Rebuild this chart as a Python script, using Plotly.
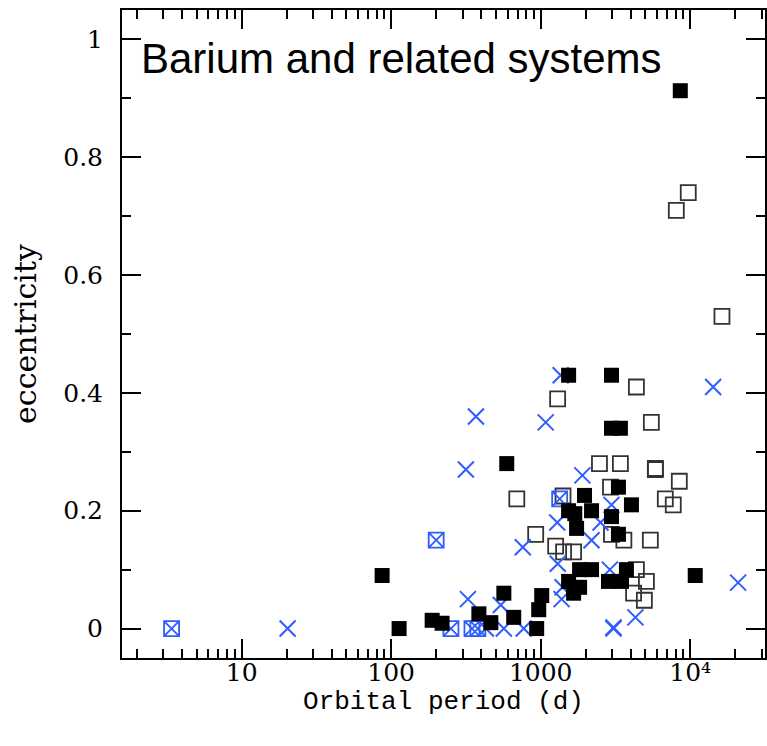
import plotly.graph_objects as go

# Barium stars (filled squares): orbital period (d), eccentricity
filled_P = [8580, 1537, 2974, 2974, 3412, 593, 3311, 1963, 4045, 1537, 1690, 2188, 2974,
            1738, 3311, 1820, 2188, 3743, 2840, 3470, 1537, 1820, 1660, 10800, 87, 567,
            188, 219, 113, 386, 464, 660, 1016, 970, 940]
filled_e = [0.913, 0.43, 0.43, 0.34, 0.34, 0.28, 0.24, 0.226, 0.21, 0.20, 0.195, 0.20, 0.19,
            0.17, 0.16, 0.10, 0.10, 0.10, 0.08, 0.08, 0.08, 0.07, 0.06, 0.09, 0.09, 0.06,
            0.014, 0.009, 0.0, 0.025, 0.01, 0.019, 0.056, 0.032, 0.0]

# Related systems (open squares)
open_P = [9700, 8070, 16300, 4365, 1298, 5495, 2472, 3412, 5845, 5845, 8450, 692, 1410,
          6813, 7700, 2930, 926, 1259, 2974, 3600, 5410, 1423, 1660, 4365, 5093, 4180, 4935]
open_e = [0.74, 0.71, 0.53, 0.41, 0.39, 0.35, 0.28, 0.28, 0.27, 0.272, 0.25, 0.22, 0.225,
          0.22, 0.21, 0.24, 0.16, 0.14, 0.16, 0.15, 0.15, 0.13, 0.13, 0.10, 0.08, 0.06, 0.048]

# Blue crosses
cross_P = [20.3, 1360, 369, 1080, 316, 1900, 14230, 759, 1290, 2974, 2512, 2188, 2900,
           20900, 4300, 3066, 3066, 1380, 326, 541, 430, 567, 770, 1300, 1400]
cross_e = [0.0, 0.43, 0.36, 0.35, 0.27, 0.26, 0.41, 0.138, 0.18, 0.21, 0.18, 0.15, 0.10,
           0.078, 0.019, 0.0, 0.002, 0.05, 0.05, 0.04, 0.0, 0.0, 0.0, 0.11, 0.07]

# Blue boxed crosses
box_P = [3.4, 200, 1339, 251, 347, 380]
box_e = [0.0, 0.15, 0.22, 0.0, 0.0, 0.0]

major_vals = [10, 100, 1000, 10000]
major_text = ["10", "100", "1000", "10⁴"]
minor_vals = [m * 10 ** k for k in range(0, 5) for m in range(2, 10)]

BLUE = "#2f5cff"

fig = go.Figure()
fig.add_trace(go.Scatter(x=open_P, y=open_e, mode="markers",
                         marker=dict(symbol="square-open", size=15, color="#333333",
                                     line=dict(width=1.8, color="#333333"))))
fig.add_trace(go.Scatter(x=cross_P, y=cross_e, mode="markers",
                         marker=dict(symbol="x-thin-open", size=16, color=BLUE,
                                     line=dict(width=2, color=BLUE))))
fig.add_trace(go.Scatter(x=box_P, y=box_e, mode="markers",
                         marker=dict(symbol="square-x-open", size=15, color=BLUE,
                                     line=dict(width=1.8, color=BLUE))))
fig.add_trace(go.Scatter(x=filled_P, y=filled_e, mode="markers",
                         marker=dict(symbol="square", size=15, color="black",
                                     line=dict(width=0))))
# invisible trace on the overlaying axis that carries the minor ticks
fig.add_trace(go.Scatter(x=[10], y=[0], xaxis="x2", mode="markers",
                         marker=dict(opacity=0), hoverinfo="skip"))

tickfont = dict(family="DejaVu Serif", size=25, color="black")
fig.update_layout(
    width=767, height=746,
    margin=dict(l=122, r=0, t=10, b=88),
    paper_bgcolor="white", plot_bgcolor="white",
    showlegend=False,
    xaxis=dict(type="log", range=[0.2, 4.5], tickmode="array", tickvals=major_vals,
               ticktext=major_text, ticks="inside", ticklen=19, tickwidth=1.5,
               tickcolor="black", showline=True, linecolor="black", linewidth=2,
               mirror="ticks", showgrid=False, zeroline=False, tickfont=tickfont,
               ticklabelstandoff=-9,
               title=dict(text="Orbital period (d)",
                          font=dict(family="Liberation Mono", size=26, color="black"),
                          standoff=0)),
    xaxis2=dict(type="log", range=[0.2, 4.5], overlaying="x", side="bottom", anchor="y",
                tickmode="array", tickvals=minor_vals, ticktext=[""] * len(minor_vals),
                ticks="inside", ticklen=9, tickwidth=1.5, tickcolor="black",
                showline=False, mirror="ticks", showgrid=False, zeroline=False,
                showticklabels=False),
    yaxis=dict(range=[-0.05, 1.05], tickmode="linear", tick0=0, dtick=0.2,
               ticks="inside", ticklen=19, tickwidth=1.5, tickcolor="black",
               minor=dict(dtick=0.1, tick0=0, ticks="inside", ticklen=9, tickwidth=1.5,
                          tickcolor="black"),
               showline=True, linecolor="black", linewidth=2, mirror="ticks",
               showgrid=False, zeroline=False, tickfont=tickfont, ticklabelstandoff=12,
               title=dict(text="eccentricity",
                          font=dict(family="DejaVu Serif", size=30, color="black"),
                          standoff=18)),
    annotations=[dict(text="Barium and related systems", xref="paper", yref="paper",
                      x=0.027, y=0.925, xanchor="left", yanchor="middle", showarrow=False,
                      font=dict(family="Liberation Sans", size=42, color="black"))],
)

fig.write_html("out.html")
